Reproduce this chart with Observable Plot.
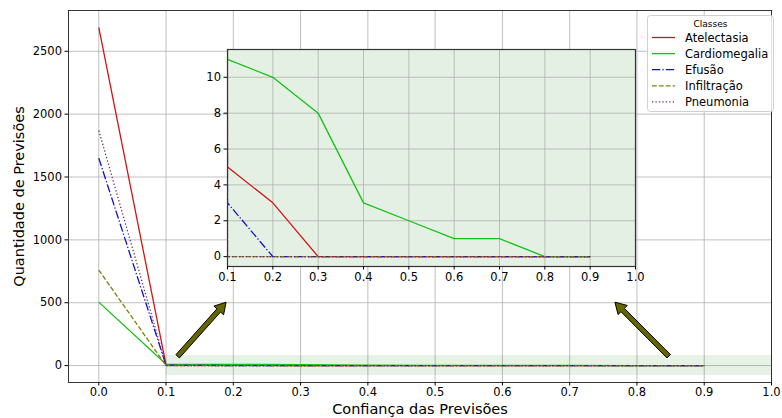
<!DOCTYPE html>
<html><head><meta charset="utf-8">
<script src="https://cdn.jsdelivr.net/npm/d3@7"></script>
<script src="https://cdn.jsdelivr.net/npm/@observablehq/plot@0.6"></script>
<style>
body{margin:0;background:#fff;font-family:"DejaVu Sans",sans-serif;}
#wrap{position:relative;width:782px;height:418px;overflow:hidden;}
#wrap > *{position:absolute;}
</style></head><body><div id="wrap"></div>
<script>
// ---- data ----
const confidence = [0.0, 0.1, 0.2, 0.3, 0.4, 0.5, 0.6, 0.7, 0.8, 0.9];
const classes = ["Atelectasia", "Cardiomegalia", "Efusão", "Infiltração", "Pneumonia"];
const atelectasia   = [2690, 5, 3, 0, 0, 0, 0, 0, 0, 0];
const cardiomegalia = [505, 11, 10, 8, 3, 2, 1, 1, 0, 0];
const efusao        = [1650, 3, 0, 0, 0, 0, 0, 0, 0, 0];
const infiltracao   = [760, 0, 0, 0, 0, 0, 0, 0, 0, 0];
const pneumonia     = [1870, 0, 0, 0, 0, 0, 0, 0, 0, 0];
const xTicks = [0.0, 0.1, 0.2, 0.3, 0.4, 0.5, 0.6, 0.7, 0.8, 0.9, 1.0];
const insetXTicks = [0.1, 0.2, 0.3, 0.4, 0.5, 0.6, 0.7, 0.8, 0.9, 1.0];
const yTicksMain = [0, 500, 1000, 1500, 2000, 2500];
const yTicksInset = [0, 2, 4, 6, 8, 10];
const arrowsData = [
  {x1: 0.118, y1: 70, x2: 0.19, y2: 500},
  {x1: 0.848, y1: 70, x2: 0.768, y2: 500}
];
const bandData = [{x1: 0.1, x2: 1.1, y1: -80, y2: 80}];

// ---- styles ----
const colors = ["#d01515", "#14c014", "#1010cc", "#7f7f10", "#6a2c70"];
const dashes = ["none", "none", "8.3,2.1,1.3,2.1", "4.8,2.1", "1.3,2.15"];
const seriesValues = [atelectasia, cardiomegalia, efusao, infiltracao, pneumonia];
const rows = classes.flatMap((c, i) => confidence.map((x, j) => ({cls: c, x, y: seriesValues[i][j]})));
const fmt = d3.format(".1f");
const ifmt = d3.format("d");
const FONT = "DejaVu Sans";
const gridStyle = {stroke: "#b0b0b0", strokeOpacity: 1, strokeWidth: 0.8};

function lineMarks(clip) {
  return classes.map((c, i) => Plot.line(rows.filter(r => r.cls === c), {
    x: "x", y: "y", stroke: colors[i], strokeWidth: 1.3,
    strokeDasharray: dashes[i], strokeLinecap: "butt", clip
  }));
}

function fatArrows(index, scales) {
  const g = d3.create("svg:g");
  for (const a of arrowsData) {
    const x1 = scales.x(a.x1), y1 = scales.y(a.y1), x2 = scales.x(a.x2), y2 = scales.y(a.y2);
    const L = Math.hypot(x2 - x1, y2 - y1);
    const ux = (x2 - x1) / L, uy = (y2 - y1) / L, nx = -uy, ny = ux;
    const w = 2.4, hw = 6.5, hl = 11;
    const bx = x2 - ux * hl, by = y2 - uy * hl;
    const pts = [
      [x1 + nx * w, y1 + ny * w], [bx + nx * w, by + ny * w], [bx + nx * hw, by + ny * hw],
      [x2, y2], [bx - nx * hw, by - ny * hw], [bx - nx * w, by - ny * w], [x1 - nx * w, y1 - ny * w]
    ];
    g.append("polygon").attr("points", pts.map(p => p.join(",")).join(" "))
      .attr("fill", "#666600").attr("stroke", "#000").attr("stroke-width", 1).attr("stroke-linejoin", "miter");
  }
  return g.node();
}

// ---- main chart ----
const main = Plot.plot({
  width: 782, height: 418,
  marginLeft: 68, marginRight: 11, marginTop: 10, marginBottom: 36,
  style: {fontFamily: FONT, fontSize: "11.5px", color: "#000", background: "transparent", overflow: "visible"},
  x: {domain: [-0.045, 1.0]},
  y: {domain: [-134.5, 2824.5]},
  marks: [
    Plot.gridX(xTicks, gridStyle),
    Plot.gridY(yTicksMain, gridStyle),
    Plot.rect(bandData, {x1: "x1", x2: "x2", y1: "y1", y2: "y2", fill: "green", fillOpacity: 0.1, clip: true}),
    ...lineMarks(false),
    fatArrows,
    Plot.frame({stroke: "#222", strokeWidth: 0.9}),
    Plot.axisX(xTicks, {tickSize: 3.5, tickPadding: 2, tickFormat: fmt, label: null, fontSize: 11.5}),
    Plot.axisY(yTicksMain, {tickSize: 3.5, tickPadding: 3, tickFormat: ifmt, label: null, fontSize: 11.5}),
    Plot.text(["Confiança das Previsões"], {frameAnchor: "bottom", textAnchor: "middle", lineAnchor: "middle", dy: 27, fontSize: 14.5, fill: "#000"}),
    Plot.text(["Quantidade de Previsões"], {frameAnchor: "left", textAnchor: "middle", lineAnchor: "middle", dx: -49, rotate: -90, fontSize: 14.5, fill: "#000"})
  ]
});
main.style.left = "0px"; main.style.top = "0px";
document.getElementById("wrap").appendChild(main);

// ---- inset ----
const iL = 26, iR = 12, iT = 3, iB = 22;
const inset = Plot.plot({
  width: 408 + iL + iR, height: 217 + iT + iB,
  marginLeft: iL, marginRight: iR, marginTop: iT, marginBottom: iB,
  style: {fontFamily: FONT, fontSize: "11.5px", color: "#000", background: "transparent", overflow: "visible"},
  x: {domain: [0.1, 1.0]},
  y: {domain: [-0.55, 11.55]},
  marks: [
    Plot.frame({fill: "#e4f0e4", stroke: "none"}),
    Plot.gridX(insetXTicks, gridStyle),
    Plot.gridY(yTicksInset, gridStyle),
    ...lineMarks(true),
    Plot.frame({stroke: "#333", strokeWidth: 1.2}),
    Plot.axisX(insetXTicks, {tickSize: 3.5, tickPadding: 3, tickFormat: fmt, label: null, fontSize: 11.5}),
    Plot.axisY(yTicksInset, {tickSize: 3.5, tickPadding: 3, tickFormat: ifmt, label: null, fontSize: 11.5})
  ]
});
inset.style.left = (227 - iL) + "px"; inset.style.top = (49 - iT) + "px";
document.getElementById("wrap").appendChild(inset);

// ---- legend ----
const lg = d3.create("svg").attr("width", 128).attr("height", 98)
  .style("left", "647px").style("top", "15px").style("font-family", FONT);
lg.append("rect").attr("x", 0.5).attr("y", 0.5).attr("width", 126).attr("height", 96).attr("rx", 3)
  .attr("fill", "rgba(255,255,255,0.85)").attr("stroke", "#d0d0d0");
lg.append("text").attr("x", 63.5).attr("y", 8.5).attr("text-anchor", "middle").attr("dominant-baseline", "central")
  .attr("font-size", 9).text("Classes");
classes.forEach((c, i) => {
  const y = 22.5 + i * 16.1;
  lg.append("line").attr("x1", 5).attr("x2", 28).attr("y1", y).attr("y2", y)
    .attr("stroke", colors[i]).attr("stroke-width", 1.3).attr("stroke-dasharray", dashes[i] === "none" ? null : dashes[i]);
  lg.append("text").attr("x", 38).attr("y", y).attr("dominant-baseline", "central")
    .attr("font-size", 11.5).text(c);
});
document.getElementById("wrap").appendChild(lg.node());
</script>
</body></html>
